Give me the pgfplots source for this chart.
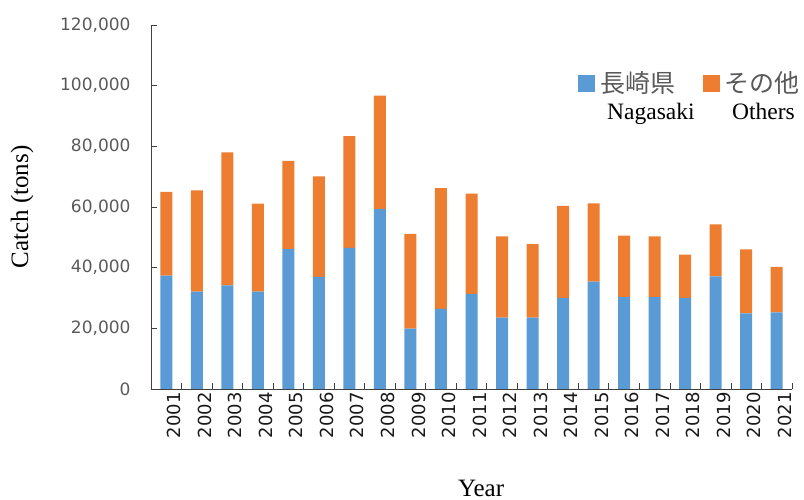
\documentclass[border=0pt]{standalone}
\usepackage{fontspec}
\usepackage{pgfplots}
\usepackage{pgfplotstable}
\pgfplotsset{compat=1.18}
\setmainfont{Liberation Serif}
\newfontfamily\dejavu{DejaVu Sans}
\newfontfamily\jp{Noto Sans CJK JP}
\definecolor{nagasaki}{HTML}{5B9BD5}
\definecolor{others}{HTML}{ED7D31}
\definecolor{ticktext}{HTML}{595959}
\definecolor{axisline}{HTML}{404040}

% Annual catch (tons): Nagasaki prefecture and other prefectures
\pgfplotstableread{
idx year nagasaki others
0  2001 37400 27600
1  2002 32100 33400
2  2003 34200 43800
3  2004 32100 29000
4  2005 46100 29100
5  2006 37000 33100
6  2007 46500 36900
7  2008 59300 37400
8  2009 19900 31200
9  2010 26400 39800
10 2011 31400 33000
11 2012 23500 26800
12 2013 23500 24300
13 2014 30000 30400
14 2015 35400 25800
15 2016 30300 20300
16 2017 30300 20000
17 2018 30000 14300
18 2019 37100 17200
19 2020 24900 21100
20 2021 25300 15000
}\catch

\begin{document}
\begin{tikzpicture}
\useasboundingbox (0,0) rectangle (804bp,500bp);
\begin{axis}[
  at={(151bp,111bp)}, anchor=south west,
  scale only axis,
  width=641bp, height=364bp,
  ybar stacked, bar width=12bp,
  xmin=-0.5, xmax=20.5,
  ymin=0, ymax=120000,
  axis x line*=bottom, axis y line*=left,
  axis line style={axisline, line width=0.8bp, -},
  xtick={0,...,20},
  xticklabels={2001,2002,2003,2004,2005,2006,2007,2008,2009,2010,2011,2012,2013,2014,2015,2016,2017,2018,2019,2020,2021},
  major x tick style={draw=none},
  minor xtick={-0.5,0.5,...,20.5},
  minor tick length=6bp,
  minor x tick style={axisline, line width=0.8bp},
  ytick={0,20000,...,120000},
  major tick length=6bp,
  tick align=inside,
  y tick style={axisline, line width=0.8bp},
  scaled y ticks=false,
  /pgf/number format/fixed,
  /pgf/number format/1000 sep={,},
  /pgf/number format/assume math mode=true,
  y tick label style={font=\dejavu\fontsize{17bp}{20bp}\selectfont, text=ticktext, xshift=-17bp},
  x tick label style={font=\dejavu\fontsize{18bp}{21bp}\selectfont, text=black!90, rotate=90, anchor=east, yshift=-8bp},
  xlabel={Year},
  ylabel={Catch (tons)},
  label style={font=\fontsize{25bp}{30bp}\selectfont},
  xlabel style={at={(axis description cs:0.515,-0.294)}, anchor=base, inner sep=0pt},
  ylabel style={at={(axis description cs:-0.201,0.5)}, anchor=center, rotate=0},
  clip=false,
]
\addplot[fill=nagasaki, draw=none] table[x=idx, y=nagasaki] {\catch};
\addplot[fill=others, draw=none] table[x=idx, y=others] {\catch};
\end{axis}
% legend keys and entries
\fill[nagasaki] (578bp,408bp) rectangle (595bp,425bp);
\fill[others] (703bp,408bp) rectangle (720bp,425bp);
\node[anchor=west, inner sep=0pt, text=ticktext, font=\jp\fontsize{25bp}{30bp}\selectfont] at (600bp,417bp) {長崎県};
\node[anchor=west, inner sep=0pt, text=ticktext, font=\jp\fontsize{25bp}{30bp}\selectfont] at (724bp,417bp) {その他};
\node[anchor=base west, inner sep=0pt, font=\fontsize{23.5bp}{28bp}\selectfont] at (607bp,380bp) {Nagasaki};
\node[anchor=base west, inner sep=0pt, font=\fontsize{23.5bp}{28bp}\selectfont] at (732bp,380bp) {Others};
\end{tikzpicture}
\end{document}
